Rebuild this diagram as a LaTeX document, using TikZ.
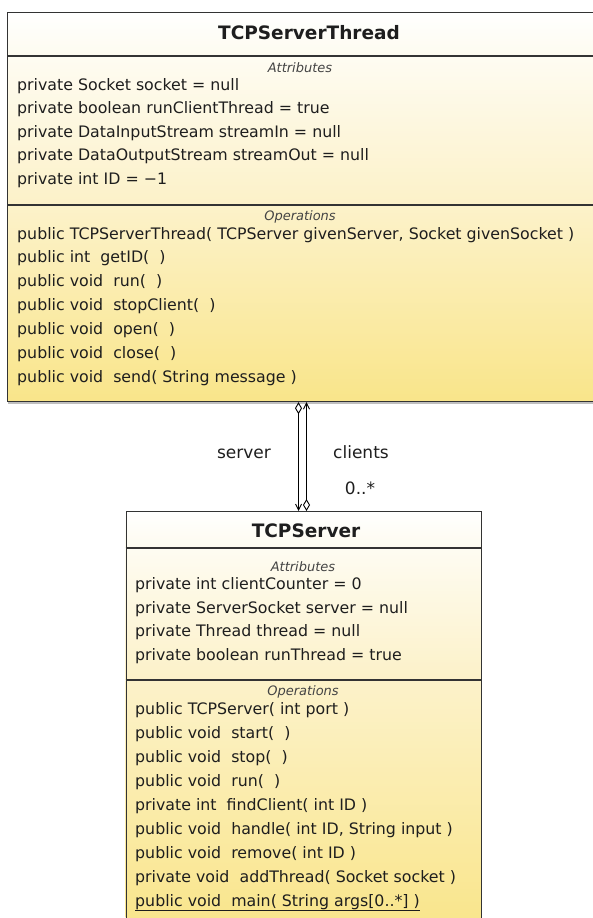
\documentclass[tikz,border=0pt]{standalone}
\usepackage{fontspec}
\setmainfont{DejaVu Sans}
\usetikzlibrary{arrows.meta}
\definecolor{hdrbot}{HTML}{FDFBEF}
\definecolor{attrtop}{HTML}{FEFCF2}
\definecolor{attrbot}{HTML}{FCF1C8}
\definecolor{opstop}{HTML}{FCF2CA}
\definecolor{opsbot}{HTML}{F9E58A}
\definecolor{edge}{HTML}{333333}
\definecolor{txt}{HTML}{1E1E1E}
\definecolor{lbl}{HTML}{444444}
\tikzset{
  classbox/.style={draw=edge, line width=1.2pt, inner sep=0pt, anchor=north west},
  divider/.style={draw=edge, line width=1.2pt},
  member/.style={anchor=base west, inner sep=0pt, text=txt, font=\fontsize{15.8}{17}\selectfont},
  classtitle/.style={anchor=base, inner sep=0pt, text=txt, font=\bfseries\fontsize{18.5}{20}\selectfont},
  section/.style={anchor=base, inner sep=0pt, text=lbl, font=\itshape\fontsize{13}{14}\selectfont},
  assoc/.style={draw=black, line width=0.9pt},
  rolelabel/.style={anchor=base, inner sep=0pt, text=txt, font=\fontsize{17}{18}\selectfont},
  umldiam/.tip={Diamond[open, fill=white, length=12pt, width=7pt]},
  umlbarb/.tip={Straight Barb[length=6pt, width=6pt]},
}
\begin{document}
\begin{tikzpicture}[x=1pt,y=-1pt]
\useasboundingbox (0,0) rectangle (592,918);
% ---------- TCPServerThread ----------
\shade[top color=white, bottom color=hdrbot] (7,12) rectangle (600,56);
\shade[top color=attrtop, bottom color=attrbot] (7,56) rectangle (600,205);
\shade[top color=opstop, bottom color=opsbot] (7,205) rectangle (600,401);
\fill[black!25] (8,402) rectangle (600,403.5);
\node[classbox, minimum width=593pt, minimum height=389pt] (thread) at (7,12) {};
\draw[divider] (7,56) -- (600,56);
\draw[divider] (7,205) -- (600,205);
\node[classtitle] (tt) at (309,39) {TCPServerThread};
\node[section] (ta) at (300,72) {Attributes};
\node[member] (ta1) at (17,90) {private Socket socket = null};
\node[member] (ta2) at (17,113.5) {private boolean runClientThread = true};
\node[member] (ta3) at (17,137) {private DataInputStream streamIn = null};
\node[member] (ta4) at (17,160.5) {private DataOutputStream streamOut = null};
\node[member] (ta5) at (17,184.5) {private int ID = −1};
\node[section] (to) at (300,220) {Operations};
\node[member] (to1) at (17,239) {public TCPServerThread( TCPServer givenServer, Socket givenSocket )};
\node[member] (to2) at (17,262.5) {public int~ getID(~ )};
\node[member] (to3) at (17,286.5) {public void~ run(~ )};
\node[member] (to4) at (17,310) {public void~ stopClient(~ )};
\node[member] (to5) at (17,334) {public void~ open(~ )};
\node[member] (to6) at (17,358) {public void~ close(~ )};
\node[member] (to7) at (17,382) {public void~ send( String message )};
% ---------- TCPServer ----------
\shade[top color=white, bottom color=hdrbot] (125.5,511) rectangle (481,548);
\shade[top color=attrtop, bottom color=attrbot] (125.5,548) rectangle (481,680);
\shade[top color=opstop, bottom color=opsbot] (125.5,680) rectangle (481,930);
\node[classbox, minimum width=355.5pt, minimum height=420pt] (server) at (125.5,511) {};
\draw[divider] (125.5,548) -- (481,548);
\draw[divider] (125.5,680) -- (481,680);
\node[classtitle] (st) at (306,537.5) {TCPServer};
\node[section] (sa) at (303,571) {Attributes};
\node[member] (sa1) at (135,589.5) {private int clientCounter = 0};
\node[member] (sa2) at (135,613) {private ServerSocket server = null};
\node[member] (sa3) at (135,636.5) {private Thread thread = null};
\node[member] (sa4) at (135,660) {private boolean runThread = true};
\node[section] (so) at (303,695) {Operations};
\node[member] (so1) at (135,714) {public TCPServer( int port )};
\node[member] (so2) at (135,738) {public void~ start(~ )};
\node[member] (so3) at (135,762) {public void~ stop(~ )};
\node[member] (so4) at (135,786) {public void~ run(~ )};
\node[member] (so5) at (135,810) {private int~ findClient( int ID )};
\node[member] (so6) at (135,834) {public void~ handle( int ID, String input )};
\node[member] (so7) at (135,858) {public void~ remove( int ID )};
\node[member] (so8) at (135,882) {private void~ addThread( Socket socket )};
\node[member] (so9) at (135,906) {\underline{public void~ main( String args[0..*] )}};
% ---------- association ----------
\coordinate (lx) at (298.5,0);
\coordinate (rx) at (306.5,0);
\draw[assoc, umldiam-umlbarb] (thread.south -| lx) -- (server.north -| lx);
\draw[assoc, umlbarb-umldiam] (thread.south -| rx) -- (server.north -| rx);
\node[rolelabel] (lserver) at (244,458.5) {server};
\node[rolelabel] (lclients) at (361,458.5) {clients};
\node[rolelabel] (lmult) at (360,494.5) {0..*};
\end{tikzpicture}
\end{document}
